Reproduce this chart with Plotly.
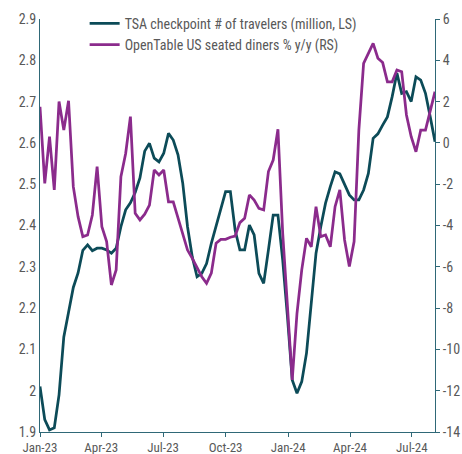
import pandas as pd
import plotly.graph_objects as go

# Weekly observations, first week 2023-01-01
start_date = "2023-01-01"
n_weeks = 84

tsa_travelers = [
    2.01, 1.93, 1.905, 1.91, 1.99, 2.13, 2.19, 2.25, 2.285, 2.34,
    2.353, 2.339, 2.345, 2.345, 2.341, 2.333, 2.345, 2.397, 2.438, 2.455,
    2.48, 2.515, 2.58, 2.599, 2.563, 2.554, 2.575, 2.623, 2.607, 2.571,
    2.502, 2.397, 2.324, 2.276, 2.284, 2.308, 2.357, 2.397, 2.438, 2.482,
    2.482, 2.389, 2.341, 2.341, 2.401, 2.377, 2.284, 2.260, 2.341, 2.425,
    2.425, 2.316, 2.179, 2.026, 1.994, 2.022, 2.091, 2.220, 2.333, 2.397,
    2.454, 2.494, 2.530, 2.525, 2.498, 2.474, 2.462, 2.462, 2.486, 2.526,
    2.611, 2.622, 2.643, 2.663, 2.712, 2.769, 2.720, 2.724, 2.700, 2.760,
    2.752, 2.720, 2.663, 2.603,
]

opentable_yy = [
    1.75, -1.96, 0.30, -2.28, 2.0, 0.62, 2.04, -2.12, -3.57, -4.54,
    -4.46, -3.49, -1.15, -4.06, -4.78, -6.88, -6.15, -1.64, -0.51, 1.27,
    -3.41, -3.73, -3.45, -3.01, -1.31, -1.55, -1.31, -2.85, -2.85, -3.65,
    -4.38, -5.19, -5.59, -6.07, -6.48, -6.80, -6.31, -4.86, -4.67, -4.67,
    -4.57, -4.51, -3.86, -3.65, -2.52, -2.77, -3.17, -3.25, -1.39, -0.83,
    0.66, -4.38, -7.93, -11.48, -8.25, -6.15, -4.62, -5.03, -3.09, -4.54,
    -4.46, -5.03, -3.09, -2.28, -4.70, -5.99, -4.78, 0.62, 3.85, 4.34,
    4.82, 4.10, 3.89, 2.96, 2.96, 3.53, 3.45, 1.35, 0.30, -0.43,
    0.62, 0.62, 1.51, 2.48,
]

tsa_name = "TSA checkpoint # of travelers (million, LS)"
ot_name = "OpenTable US seated diners % y/y (RS)"

right_tickvals = [-14, -12, -10, -8, -6, -4, -2, 0, 2, 4, 6]
right_ticktext = ["-14", "-12", "-10", "-8", "-6", "-4", "-2", "0", "2", "4", "6"]

dates = pd.date_range(start_date, periods=n_weeks, freq="7D")

TEAL = "#0c4b58"
PURPLE = "#8b2b8c"
AXIS = "#2f6877"
TXT = "#595959"
FONT = "Liberation Sans Narrow, Arial Narrow, Roboto Condensed, Roboto, sans-serif"

fig = go.Figure()
fig.add_trace(go.Scatter(x=dates, y=tsa_travelers, name=tsa_name, mode="lines",
                         line=dict(color=TEAL, width=2.75), yaxis="y"))
fig.add_trace(go.Scatter(x=dates, y=opentable_yy, name=ot_name, mode="lines",
                         line=dict(color=PURPLE, width=2.75), yaxis="y2"))

fig.update_layout(
    width=462, height=454,
    margin=dict(l=40, r=27, t=19, b=22, autoexpand=False),
    paper_bgcolor="white", plot_bgcolor="white",
    font=dict(family=FONT, size=14, color=TXT),
    showlegend=True,
    legend=dict(x=0.113, y=1.027, xanchor="left", yanchor="top",
                bgcolor="rgba(0,0,0,0)",
                font=dict(size=14, color=TXT), tracegroupgap=0,
                itemwidth=30),
    xaxis=dict(type="date", range=["2023-01-01", "2024-08-04"],
               tick0="2023-01-01", dtick="M3", tickformat="%b-%y",
               showgrid=False, zeroline=False, showline=True,
               linecolor=AXIS, linewidth=1, ticks="outside", ticklen=4,
               tickcolor=AXIS, tickfont=dict(size=13, color=TXT),
               ticklabelstandoff=-1),
    yaxis=dict(range=[1.9, 2.9], dtick=0.1, tick0=1.9, showgrid=False,
               zeroline=False, showline=True, linecolor=AXIS, linewidth=1,
               ticks="", tickfont=dict(size=14, color=TXT)),
    yaxis2=dict(range=[-14, 6], tickvals=right_tickvals, ticktext=right_ticktext,
                overlaying="y", side="right", showgrid=False, zeroline=False,
                showline=True, linecolor=AXIS, linewidth=1, ticks="outside",
                ticklen=4, tickcolor=AXIS, tickfont=dict(size=14, color=TXT)),
)

fig.write_html("out.html",
               config={"displayModeBar": False},
               post_script="document.body.style.margin='0';document.body.style.overflow='hidden';")
